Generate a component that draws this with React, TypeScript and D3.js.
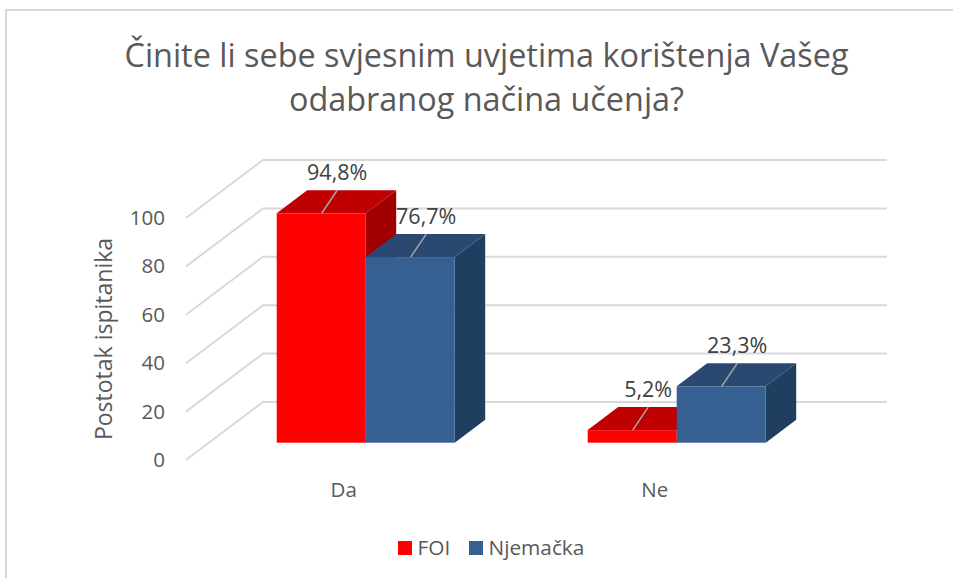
import React, { useEffect, useRef } from "react"
import * as d3 from "d3"

const categories = ["Da", "Ne"]
const seriesNames = ["FOI", "Njemačka"]
const foiValues = [94.8, 5.2]
const njemackaValues = [76.7, 23.3]
const yTicks = [0, 20, 40, 60, 80, 100]
const titleLines = ["Činite li sebe svjesnim uvjetima korištenja Vašeg", "odabranog načina učenja?"]
const yAxisTitle = "Postotak ispitanika"

const colors = {
  FOI: { front: "#ff0000", top: "#bf0000", side: "#a00000" },
  Njemačka: { front: "#376092", top: "#2a4870", side: "#203e5f" },
}
const FONT = "'Open Sans', sans-serif"
const TEXT = "#595959"
const GRID = "#d9d9d9"

const App = () => {
  const svgRef = useRef<SVGSVGElement>(null)

  useEffect(() => {
    const svg = d3.select(svgRef.current)
    svg.selectAll("*").remove()

    // wall gridlines live on the back plane, bars sit further forward
    const y = d3.scaleLinear().domain([0, 100]).range([402, 160])
    const x0 = d3.scaleBand().domain(categories).range([210.2, 832.2])
    const x1 = d3.scaleBand().domain(seriesNames).range([66.5, 244.5])
    const wallLeft = 263
    const wallRight = 887
    const sideDx = -77
    const sideDy = 58
    const barBase = 442.7
    const depthX = 30.5
    const depthY = -23

    // chart frame (only top and left are in the crop)
    svg.append("path")
      .attr("d", "M6,578V10H953")
      .attr("fill", "none")
      .attr("stroke", GRID)
      .attr("stroke-width", 2)

    // title
    svg.append("g")
      .selectAll("text")
      .data(titleLines)
      .join("text")
      .attr("x", 486.5)
      .attr("y", (_, i) => 67 + i * 44)
      .attr("text-anchor", "middle")
      .attr("font-size", 32.4)
      .attr("fill", TEXT)
      .text((d) => d)

    // gridlines, wall + side wall
    svg.append("g")
      .selectAll("path")
      .data(yTicks)
      .join("path")
      .attr("d", (d) => `M${wallLeft + sideDx},${y(d) + sideDy}L${wallLeft},${y(d)}H${wallRight}`)
      .attr("fill", "none")
      .attr("stroke", GRID)
      .attr("stroke-width", 2)

    // y axis labels
    svg.append("g")
      .selectAll("text")
      .data(yTicks)
      .join("text")
      .attr("x", 165)
      .attr("y", (d) => y(d) + sideDy + 7)
      .attr("text-anchor", "end")
      .attr("font-size", 20.5)
      .attr("fill", TEXT)
      .text((d) => d)

    svg.append("text")
      .attr("transform", "translate(112,339) rotate(-90)")
      .attr("text-anchor", "middle")
      .attr("font-size", 23)
      .attr("fill", TEXT)
      .text(yAxisTitle)

    // bars
    const seriesValues = [foiValues, njemackaValues]
    seriesNames.forEach((name, s) => {
      const c = colors[name as keyof typeof colors]
      categories.forEach((cat, i) => {
        const v = seriesValues[s][i]
        const left = x0(cat)! + x1(name)!
        const w = x1.bandwidth()
        const right = left + w
        const top = barBase - (y(0) - y(v))
        const g = svg.append("g")
        g.append("path")
          .attr("d", `M${right},${top}l${depthX},${depthY}V${barBase + depthY}l${-depthX},${-depthY}Z`)
          .attr("fill", c.side)
        g.append("path")
          .attr("d", `M${left},${top}l${depthX},${depthY}H${right + depthX}l${-depthX},${-depthY}Z`)
          .attr("fill", c.top)
        g.append("rect")
          .attr("x", left)
          .attr("y", top)
          .attr("width", w)
          .attr("height", barBase - top)
          .attr("fill", c.front)
        // leader line + value label
        const cx = left + w / 2
        g.append("line")
          .attr("x1", cx + 0.5)
          .attr("y1", top)
          .attr("x2", cx + 16)
          .attr("y2", top + depthY)
          .attr("stroke", "#a6a6a6")
          .attr("stroke-width", 1.5)
      })
    })

    // labels go last so the blue bars never cover them
    seriesNames.forEach((name, s) => {
      categories.forEach((cat, i) => {
        const v = seriesValues[s][i]
        const cx = x0(cat)! + x1(name)! + x1.bandwidth() / 2
        const top = barBase - (y(0) - y(v))
        svg.append("text")
          .attr("x", cx + 16)
          .attr("y", top + depthY - 10)
          .attr("text-anchor", "middle")
          .attr("font-size", 21.5)
          .attr("fill", "#404040")
          .text(`${String(v).replace(".", ",")}%`)
      })
    })

    // category labels
    svg.append("g")
      .selectAll("text")
      .data(categories)
      .join("text")
      .attr("x", (d) => x0(d)! + x0.bandwidth() / 2 - 22)
      .attr("y", 497)
      .attr("text-anchor", "middle")
      .attr("font-size", 20.5)
      .attr("fill", TEXT)
      .text((d) => d)

    // legend
    const legendX = d3.scaleOrdinal<string, number>().domain(seriesNames).range([398, 469])
    const legend = svg.append("g")
      .selectAll("g")
      .data(seriesNames)
      .join("g")
      .attr("transform", (d) => `translate(${legendX(d)},541)`)
    legend.append("rect")
      .attr("width", 14)
      .attr("height", 14)
      .attr("fill", (d) => colors[d as keyof typeof colors].front)
    legend.append("text")
      .attr("x", 19.5)
      .attr("y", 14)
      .attr("font-size", 20.8)
      .attr("fill", TEXT)
      .text((d) => d)
  }, [])

  return (
    <svg
      ref={svgRef}
      width={953}
      height={578}
      style={{ position: "absolute", left: 0, top: 0, background: "#fff", fontFamily: FONT }}
    />
  )
}

export default App
